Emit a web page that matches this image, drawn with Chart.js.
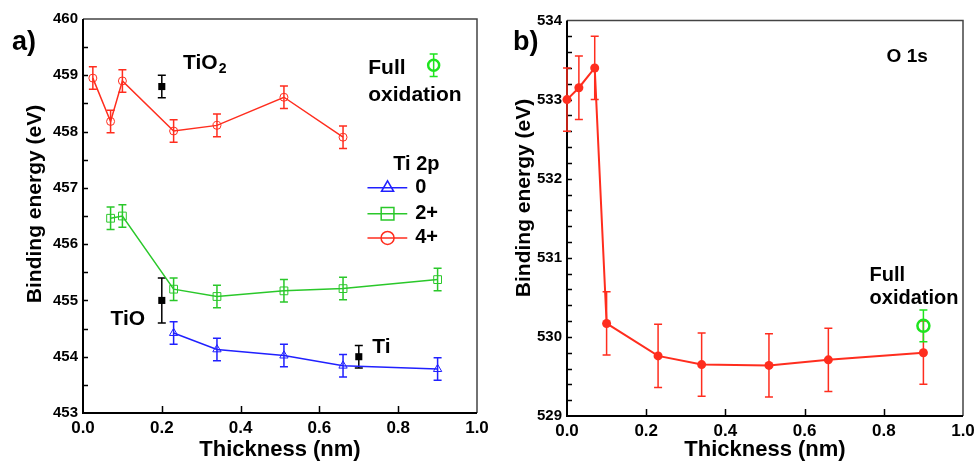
<!DOCTYPE html>
<html>
<head>
<meta charset="utf-8">
<script src="https://cdn.jsdelivr.net/npm/chart.js@4.4.1/dist/chart.umd.min.js"></script>
<style>
  html, body { margin: 0; padding: 0; background: #fff; }
  #wrap { position: relative; width: 974px; height: 466px; overflow: hidden; }
  canvas { position: absolute; top: 0; }
</style>
</head>
<body>
<div id="wrap">
  <canvas id="chartA" width="500" height="466" style="left:0"></canvas>
  <canvas id="chartB" width="487" height="466" style="left:487px"></canvas>
</div>
<script>
// ---- panel a) Ti 2p ----
var ti0X = [0.23, 0.34, 0.51, 0.66, 0.90];
var ti0Y = [454.42, 454.13, 454.02, 453.84, 453.78];
var ti0Err = [0.2, 0.2, 0.2, 0.2, 0.2];

var ti2X = [0.07, 0.10, 0.23, 0.34, 0.51, 0.66, 0.90];
var ti2Y = [456.46, 456.50, 455.20, 455.07, 455.17, 455.21, 455.37];
var ti2Err = [0.2, 0.2, 0.2, 0.2, 0.2, 0.2, 0.2];

var ti4X = [0.025, 0.07, 0.10, 0.23, 0.34, 0.51, 0.66];
var ti4Y = [458.95, 458.18, 458.90, 458.01, 458.11, 458.61, 457.90];
var ti4Err = [0.2, 0.2, 0.2, 0.2, 0.2, 0.2, 0.2];

// reference compounds (TiO2, TiO, Ti)
var refX = [0.2, 0.2, 0.7];
var refY = [458.8, 455.0, 454.0];
var refErr = [0.2, 0.4, 0.2];

// "Full oxidation" key symbol in panel a
var fullAX = [0.89];
var fullAY = [459.18];
var fullAErr = [0.2];

var seriesNames = ['0', '2+', '4+'];

// ---- panel b) O 1s ----
var o1sX = [0.0, 0.03, 0.07, 0.10, 0.23, 0.34, 0.51, 0.66, 0.90];
var o1sY = [533.00, 533.15, 533.40, 530.17, 529.76, 529.65, 529.64, 529.71, 529.80];
var o1sErr = [0.4, 0.4, 0.4, 0.4, 0.4, 0.4, 0.4, 0.4, 0.4];

var fullBX = [0.90];
var fullBY = [530.14];
var fullBErr = [0.2];

var xTicks = [0.0, 0.2, 0.4, 0.6, 0.8, 1.0];

var FONT = '"Liberation Sans", Arial, Helvetica, sans-serif';
var RED = '#ff2d1e', GREEN = '#2ac82a', BLUE = '#2020ff', BRIGHT = '#1ee41e';

function pts(xs, ys) {
  return xs.map(function (x, i) { return { x: x, y: ys[i] }; });
}

function txt(ctx, s, x, y, size, align) {
  ctx.font = 'bold ' + size + 'px ' + FONT;
  ctx.textAlign = align || 'left';
  ctx.textBaseline = 'middle';
  ctx.fillStyle = '#000';
  ctx.fillText(s, x, y);
}

// error bars for any dataset carrying an "errors" array
var errorBars = {
  id: 'errorBars',
  beforeDatasetsDraw: function (chart) {
    var ctx = chart.ctx, ys = chart.scales.y;
    chart.data.datasets.forEach(function (ds, i) {
      if (!ds.errors) return;
      var meta = chart.getDatasetMeta(i);
      ctx.save();
      ctx.strokeStyle = ds.errorColor || ds.borderColor;
      ctx.lineWidth = ds.errorWidth || 1.5;
      meta.data.forEach(function (pt, j) {
        var v = ds.data[j].y, e = ds.errors[j], cap = 4;
        var t = ys.getPixelForValue(v + e), b = ys.getPixelForValue(v - e);
        ctx.beginPath();
        ctx.moveTo(pt.x, t); ctx.lineTo(pt.x, b);
        ctx.moveTo(pt.x - cap, t); ctx.lineTo(pt.x + cap, t);
        ctx.moveTo(pt.x - cap, b); ctx.lineTo(pt.x + cap, b);
        ctx.stroke();
      });
      ctx.restore();
    });
  }
};

// box with inward ticks
function frame(minorStep) {
  return {
    id: 'frame',
    beforeDatasetsDraw: function (chart) {
      var a = chart.chartArea, ctx = chart.ctx, xs = chart.scales.x, ys = chart.scales.y;
      ctx.save();
      ctx.strokeStyle = '#444'; ctx.lineWidth = 1.5;
      ctx.beginPath();
      ctx.moveTo(a.left, a.top); ctx.lineTo(a.right, a.top); ctx.lineTo(a.right, a.bottom);
      ctx.stroke();
      ctx.strokeStyle = '#000'; ctx.lineWidth = 2;
      ctx.beginPath();
      ctx.moveTo(a.left, a.top); ctx.lineTo(a.left, a.bottom); ctx.lineTo(a.right, a.bottom);
      ctx.stroke();
      ctx.lineWidth = 1.5;
      ctx.beginPath();
      for (var v = ys.min + minorStep; v < ys.max - 1e-6; v += minorStep) {
        var py = Math.round(ys.getPixelForValue(v)) + 0.5;
        ctx.moveTo(a.left, py); ctx.lineTo(a.left + 5, py);
      }
      xTicks.forEach(function (t) {
        if (t <= 0 || t >= 1) return;
        var px = Math.round(xs.getPixelForValue(t)) + 0.5;
        ctx.moveTo(px, a.bottom); ctx.lineTo(px, a.bottom - 7);
      });
      ctx.stroke();
      ctx.restore();
    }
  };
}

function scalesFor(yMin, yMax, yWidth, xHeight) {
  return {
    x: {
      type: 'linear', min: 0, max: 1,
      grid: { display: false, drawTicks: false, tickLength: 0 }, border: { display: false },
      afterBuildTicks: function (s) { s.ticks = xTicks.map(function (v) { return { value: v }; }); },
      ticks: {
        color: '#000', padding: 5,
        font: { family: FONT, size: 17, weight: 'bold' },
        callback: function (v) { return Number(v).toFixed(1); }
      },
      title: {
        display: true, text: 'Thickness (nm)', color: '#000',
        font: { family: FONT, size: 22, weight: 'bold', lineHeight: 1.2 },
        padding: { top: 0, bottom: 3 }
      },
      afterFit: function (s) { s.height = xHeight; s.paddingLeft = 0; s.paddingRight = 0; }
    },
    y: {
      type: 'linear', min: yMin, max: yMax,
      grid: { display: false, drawTicks: false, tickLength: 0 }, border: { display: false },
      ticks: {
        stepSize: 1, color: '#000', padding: 5,
        font: { family: FONT, size: 15, weight: 'bold' }
      },
      afterFit: function (s) { s.width = yWidth; s.paddingTop = 0; s.paddingBottom = 0; }
    }
  };
}

var baseOpts = {
  responsive: false,
  animation: false,
  devicePixelRatio: 1,
  plugins: { legend: { display: false }, tooltip: { enabled: false } }
};

// ---------- chart a ----------
var notesA = {
  id: 'notesA',
  afterDraw: function (chart) {
    var ctx = chart.ctx, xs = chart.scales.x, ys = chart.scales.y;
    function X(v) { return xs.getPixelForValue(v); }
    function Y(v) { return ys.getPixelForValue(v); }
    txt(ctx, 'a)', 12, 43, 27);
    // y title
    ctx.save();
    ctx.translate(35, 204);
    ctx.rotate(-Math.PI / 2);
    txt(ctx, 'Binding energy (eV)', 0, 0, 21, 'center');
    ctx.restore();
    // TiO2
    txt(ctx, 'TiO', X(0.254), Y(459.22), 21);
    ctx.font = 'bold 21px ' + FONT;
    var w = ctx.measureText('TiO').width;
    txt(ctx, '2', X(0.254) + w + 1, Y(459.22) + 6, 14);
    txt(ctx, 'TiO', X(0.07), Y(454.67), 21);
    txt(ctx, 'Ti', X(0.734), Y(454.17), 21);
    txt(ctx, 'Full', X(0.724), Y(459.13), 21);
    txt(ctx, 'oxidation', X(0.724), Y(458.65), 21);
    // key
    txt(ctx, 'Ti 2p', X(0.846), Y(457.41), 20, 'center');
    var rows = [457.0, 456.54, 456.11];
    var cols = [BLUE, GREEN, RED];
    var styles = [['triangle', 7], ['rect', 9], ['circle', 6.5]];
    rows.forEach(function (ry, i) {
      var py = Y(ry);
      ctx.save();
      ctx.strokeStyle = cols[i]; ctx.lineWidth = 1.5;
      ctx.beginPath(); ctx.moveTo(X(0.722), py); ctx.lineTo(X(0.823), py); ctx.stroke();
      ctx.fillStyle = 'rgba(0,0,0,0)';
      Chart.helpers.drawPoint(ctx, { pointStyle: styles[i][0], radius: styles[i][1], rotation: 0, borderWidth: 1.2 }, X(0.773), py);
      ctx.restore();
      txt(ctx, seriesNames[i], X(0.843), py, 20);
    });
  }
};

new Chart(document.getElementById('chartA'), {
  type: 'scatter',
  data: {
    datasets: [
      { label: seriesNames[0], data: pts(ti0X, ti0Y), errors: ti0Err, showLine: true,
        borderColor: BLUE, borderWidth: 1.5, pointStyle: 'triangle', pointRadius: 4.8,
        pointBorderWidth: 1, pointBackgroundColor: 'rgba(0,0,0,0)', pointBorderColor: BLUE },
      { label: seriesNames[1], data: pts(ti2X, ti2Y), errors: ti2Err, showLine: true,
        borderColor: GREEN, borderWidth: 1.5, pointStyle: 'rect', pointRadius: 5.5,
        pointBorderWidth: 1, pointBackgroundColor: 'rgba(0,0,0,0)', pointBorderColor: GREEN },
      { label: seriesNames[2], data: pts(ti4X, ti4Y), errors: ti4Err, showLine: true,
        borderColor: RED, borderWidth: 1.5, pointStyle: 'circle', pointRadius: 4,
        pointBorderWidth: 1, pointBackgroundColor: 'rgba(0,0,0,0)', pointBorderColor: RED },
      { label: 'reference', data: pts(refX, refY), errors: refErr, showLine: false,
        borderColor: '#000', errorWidth: 1.5, pointStyle: 'rect', pointRadius: 5,
        pointBorderWidth: 0, pointBackgroundColor: '#000' },
      { label: 'Full oxidation', data: pts(fullAX, fullAY), errors: fullAErr, showLine: false,
        borderColor: BRIGHT, errorWidth: 1.5, pointStyle: 'circle', pointRadius: 5.5,
        pointBorderWidth: 2.5, pointBackgroundColor: 'rgba(0,0,0,0)', pointBorderColor: BRIGHT }
    ]
  },
  options: Object.assign({}, baseOpts, {
    layout: { padding: { left: 0, right: 23, top: 19, bottom: 0 } },
    scales: scalesFor(453, 460, 83, 53)
  }),
  plugins: [frame(0.5), errorBars, notesA]
});

// ---------- chart b ----------
var notesB = {
  id: 'notesB',
  afterDraw: function (chart) {
    var ctx = chart.ctx, xs = chart.scales.x, ys = chart.scales.y;
    function X(v) { return xs.getPixelForValue(v); }
    function Y(v) { return ys.getPixelForValue(v); }
    txt(ctx, 'b)', 26, 43, 27);
    ctx.save();
    ctx.translate(37, 198);
    ctx.rotate(-Math.PI / 2);
    txt(ctx, 'Binding energy (eV)', 0, 0, 21, 'center');
    ctx.restore();
    txt(ctx, 'O 1s', X(0.807), Y(533.54), 19);
    txt(ctx, 'Full', X(0.764), Y(530.78), 20);
    txt(ctx, 'oxidation', X(0.764), Y(530.49), 20);
  }
};

new Chart(document.getElementById('chartB'), {
  type: 'scatter',
  data: {
    datasets: [
      { label: 'O 1s', data: pts(o1sX, o1sY), errors: o1sErr, showLine: true, clip: false,
        borderColor: RED, borderWidth: 2, pointStyle: 'circle', pointRadius: 4.5,
        pointBorderWidth: 0, pointBackgroundColor: RED },
      { label: 'Full oxidation', data: pts(fullBX, fullBY), errors: fullBErr, showLine: false, clip: false,
        borderColor: BRIGHT, errorWidth: 1.5, pointStyle: 'circle', pointRadius: 6,
        pointBorderWidth: 2.5, pointBackgroundColor: 'rgba(0,0,0,0)', pointBorderColor: BRIGHT }
    ]
  },
  options: Object.assign({}, baseOpts, {
    layout: { padding: { left: 0, right: 11, top: 20.5, bottom: 0 } },
    scales: scalesFor(529, 534, 80, 50)
  }),
  plugins: [frame(0.2), errorBars, notesB]
});
</script>
</body>
</html>
